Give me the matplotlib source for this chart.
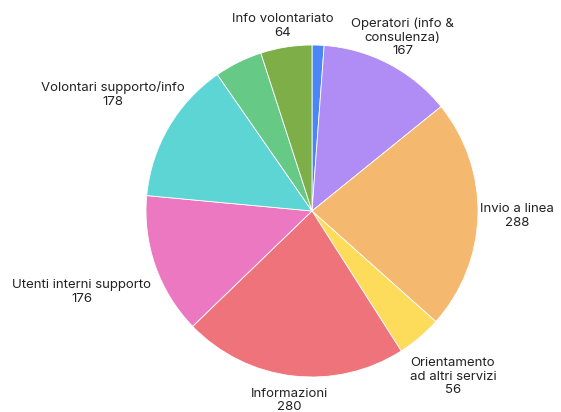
import numpy as np
import matplotlib
matplotlib.use("Agg")
import matplotlib.pyplot as plt

# slices clockwise from 12 o'clock
labels = ["", "Operatori (info &\nconsulenza)", "Invio a linea", "Orientamento\nad altri servizi",
          "Informazioni", "Utenti interni supporto", "Volontari supporto/info", "", "Info volontariato"]
values = [15, 167, 288, 56, 280, 176, 178, 60, 64]
colors = ["#4a86f7", "#b08cf5", "#f4b96e", "#fddc5c", "#ef737b", "#ec78c2", "#5dd5d4", "#66c985", "#7dae47"]
# how far out each label sits (in radii)
label_dist = [1.0, 1.18, 1.235, 1.31, 1.15, 1.47, 1.39, 1.0, 1.13]

W, H = 561, 412
fig = plt.figure(figsize=(W / 100, H / 100), dpi=100)
ax = fig.add_axes([0, 0, 1, 1])

cx, cy, R = 312, H - 211, 166
wedges, _ = ax.pie(values, colors=colors, startangle=90, counterclock=False,
                   center=(cx, cy), radius=R, frame=True,
                   wedgeprops=dict(edgecolor="white", linewidth=0.6))
ax.set_xlim(0, W)
ax.set_ylim(0, H)
ax.axis("off")

for w, lab, val, d in zip(wedges, labels, values, label_dist):
    if not lab:
        continue
    ang = np.deg2rad((w.theta1 + w.theta2) / 2)
    x = cx + R * d * np.cos(ang)
    y = cy + R * d * np.sin(ang)
    ax.text(x, y, f"{lab}\n{val}", ha="center", va="center", multialignment="center",
            fontsize=9.5, family="Inter", color="#222222", linespacing=1.2)

fig.savefig("out.png", dpi=100, facecolor="white")
